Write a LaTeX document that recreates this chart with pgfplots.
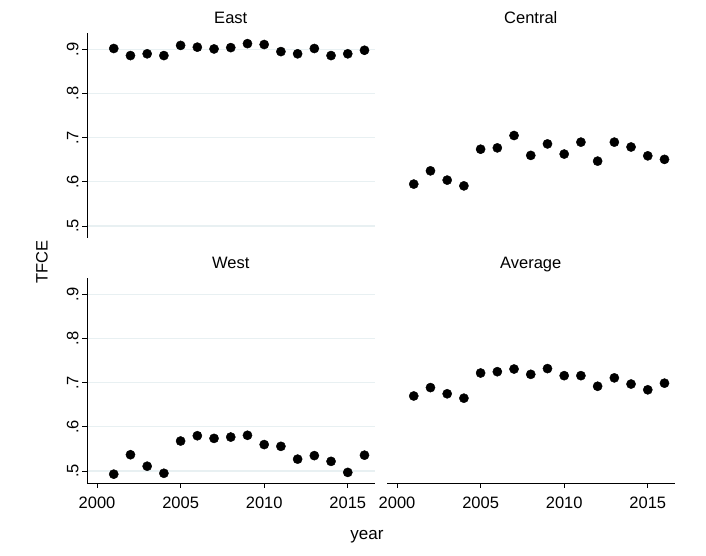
\documentclass[border=0pt]{standalone}
\usepackage{pgfplots}
\pgfplotsset{compat=1.18}
\usepackage{fontspec}
\setmainfont{Liberation Sans}
\definecolor{gridc}{RGB}{232,240,242}
\newcommand{\fs}{\fontsize{16.5bp}{19bp}\selectfont}
\pgfplotsset{
  panel/.style={
    scale only axis, width=287.5bp, height=204.5bp,
    xmin=1999.4, xmax=2016.6, ymin=0.473, ymax=0.936,
    ytick={0.5,0.6,0.7,0.8,0.9},
    yticklabels={.5,.6,.7,.8,.9},
    xtick={2000,2005,2010,2015},
    xticklabels={2000,2005,2010,2015},
    ymajorgrids, grid style={gridc, line width=1.2bp},
    tick align=outside, major tick length=5bp,
    tick style={black, line width=0.8bp},
    axis line style={black, line width=0.8bp},
    ticklabel style={font=\fs},
    xticklabel style={yshift=-5bp},
    yticklabel style={rotate=90, anchor=south},
    title style={font=\fs, at={(0.5,1)}, anchor=base, yshift=4bp},
    clip=false,
  },
  pts/.style={only marks, mark=*, mark size=4.6bp, black},
}
\begin{document}
\begin{tikzpicture}[x=1bp,y=1bp]
\useasboundingbox (0,0) rectangle (706,556);
% East
\begin{axis}[panel, at={(87bp,318bp)}, anchor=south west,
  axis x line=none, axis y line*=left, title={East}]
\addplot[pts] coordinates {(2001,0.902)(2002,0.886)(2003,0.890)(2004,0.886)(2005,0.909)(2006,0.905)(2007,0.901)(2008,0.904)(2009,0.913)(2010,0.911)(2011,0.895)(2012,0.890)(2013,0.902)(2014,0.886)(2015,0.890)(2016,0.898)};
\end{axis}
% Central
\begin{axis}[panel, at={(387bp,318bp)}, anchor=south west,
  axis x line=none, axis y line=none, title={Central}]
\addplot[pts] coordinates {(2001,0.595)(2002,0.625)(2003,0.604)(2004,0.591)(2005,0.674)(2006,0.677)(2007,0.705)(2008,0.660)(2009,0.686)(2010,0.663)(2011,0.690)(2012,0.647)(2013,0.690)(2014,0.679)(2015,0.659)(2016,0.651)};
\end{axis}
% West
\begin{axis}[panel, at={(87bp,73bp)}, anchor=south west,
  axis x line*=bottom, axis y line*=left, title={West}]
\addplot[pts] coordinates {(2001,0.493)(2002,0.537)(2003,0.511)(2004,0.495)(2005,0.568)(2006,0.580)(2007,0.574)(2008,0.577)(2009,0.581)(2010,0.560)(2011,0.556)(2012,0.527)(2013,0.535)(2014,0.522)(2015,0.497)(2016,0.536)};
\end{axis}
% Average
\begin{axis}[panel, at={(387bp,73bp)}, anchor=south west,
  axis x line*=bottom, axis y line=none, title={Average}]
\addplot[pts] coordinates {(2001,0.670)(2002,0.689)(2003,0.675)(2004,0.665)(2005,0.722)(2006,0.725)(2007,0.731)(2008,0.719)(2009,0.732)(2010,0.716)(2011,0.716)(2012,0.692)(2013,0.711)(2014,0.697)(2015,0.684)(2016,0.699)};
\end{axis}
\node[font=\fontsize{16.5bp}{19bp}\selectfont, rotate=90] at (42,294) {TFCE};
\node[font=\fontsize{17bp}{19bp}\selectfont, anchor=base] at (367,16) {year};
\end{tikzpicture}
\end{document}
